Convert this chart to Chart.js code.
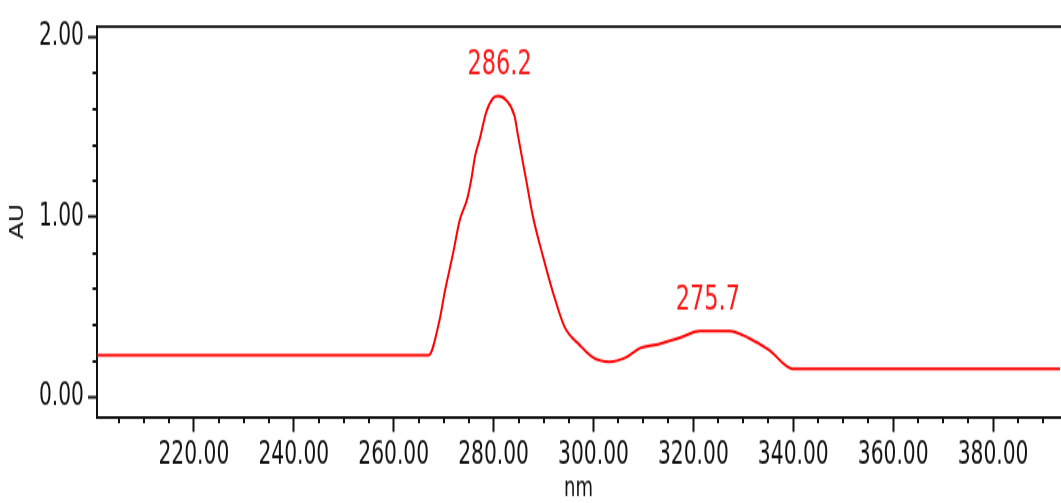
<!DOCTYPE html>
<html>
<head>
<meta charset="utf-8">
<script src="https://cdn.jsdelivr.net/npm/chart.js@4.4.1/dist/chart.umd.min.js"></script>
<style>
    html { overflow: hidden; }
    html, body { margin: 0; padding: 0; background: #fff; width: 1061px; height: 503px; }
    /* the original picture is stretched vertically, so the whole chart is too */
    #wrap { width: 1061px; height: 359px; transform: scaleY(1.4011); transform-origin: 0 0; }
</style>
</head>
<body>
<div id="wrap"><canvas id="spectrum"></canvas></div>
<script>
// spectrum (nm, AU)
const wavelengths = [200, 267.0, 269.2, 270.2, 271.9, 273.2, 274.7, 275.6, 276.3, 277.2, 278.5, 279.9, 280.9,
    282.5, 284.2, 284.9, 286.5, 287.9, 289.9, 291.9, 294.2, 297.2, 299.9, 303.2, 306.5, 309.2, 313.2,
    317.9, 321.2, 327.2, 331.2, 335.2, 339.9, 393.4];
const absorbance = [0.233, 0.233, 0.43, 0.58, 0.80, 0.98, 1.10, 1.22, 1.34, 1.43, 1.58, 1.66, 1.672,
    1.65, 1.56, 1.45, 1.21, 1.00, 0.78, 0.58, 0.39, 0.29, 0.22, 0.196, 0.22, 0.27, 0.295,
    0.335, 0.367, 0.367, 0.326, 0.26, 0.156, 0.156];

// peak annotations
const peakLabels = ['286.2', '275.7'];
const peakX = [281.2, 322.9];
const peakY = [1.672, 0.367];

// axes
const xLabelTicks = [220, 240, 260, 280, 300, 320, 340, 360, 380];
const yLabelTicks = [0, 1, 2];
const xRange = [200.6, 393.4];
const yRange = [-0.111, 2.061];

const narrow = "'Liberation Sans Narrow', 'Arial Narrow', 'DejaVu Sans Condensed', sans-serif";
const ink = '#111';

function minorX() {
    const out = [];
    for (let v = 205; v <= 390; v += 5) out.push(v);
    return out;
}
function minorY() {
    const out = [];
    for (let i = 0; i <= 10; i++) out.push(i / 5);
    return out;
}

const minorTicks = {
    id: 'minorTicks',
    afterDraw(chart) {
        const ctx = chart.ctx;
        const area = chart.chartArea;
        const xs = chart.scales.x, ys = chart.scales.y;
        ctx.save();
        ctx.strokeStyle = ink;
        ctx.lineWidth = 2;
        ctx.beginPath();
        xs.ticks.forEach(t => {
            if (xLabelTicks.includes(t.value)) return;
            const px = Math.round(xs.getPixelForValue(t.value));
            ctx.moveTo(px, area.bottom);
            ctx.lineTo(px, area.bottom + 4.5);
        });
        ys.ticks.forEach(t => {
            if (Number.isInteger(t.value)) return;
            const py = Math.round(ys.getPixelForValue(t.value));
            ctx.moveTo(area.left - 4.5, py);
            ctx.lineTo(area.left, py);
        });
        ctx.stroke();

        // peak labels
        ctx.fillStyle = '#ff1a1a';
        ctx.font = '25px ' + narrow;
        ctx.textAlign = 'center';
        ctx.textBaseline = 'middle';
        peakLabels.forEach((txt, i) => {
            const px = xs.getPixelForValue(peakX[i]);
            const py = ys.getPixelForValue(peakY[i]);
            ctx.fillText(txt, px, py - 22);
        });
        ctx.restore();
    }
};

new Chart(document.getElementById('spectrum'), {
    type: 'line',
    data: {
        datasets: [{
            data: wavelengths.map((w, i) => ({x: w, y: absorbance[i]})),
            borderColor: '#ff0000',
            borderWidth: 2,
            pointRadius: 0,
            cubicInterpolationMode: 'monotone',
            fill: false
        }]
    },
    options: {
        responsive: true,
        maintainAspectRatio: false,
        animation: false,
        layout: { padding: 0 },
        plugins: { legend: { display: false }, tooltip: { enabled: false } },
        scales: {
            x: {
                type: 'linear',
                position: 'bottom',
                min: xRange[0],
                max: xRange[1],
                afterBuildTicks: s => { s.ticks = minorX().map(v => ({value: v})); },
                afterFit: s => { s.height = 61.4; },
                grid: {
                    drawOnChartArea: false,
                    tickLength: 10.7,
                    tickWidth: 2,
                    tickColor: c => xLabelTicks.includes(c.tick.value) ? ink : 'rgba(0,0,0,0)'
                },
                border: { color: ink, width: 2 },
                ticks: {
                    autoSkip: false,
                    maxRotation: 0,
                    padding: 3,
                    color: ink,
                    font: { family: narrow, size: 22.5 },
                    callback: v => xLabelTicks.includes(v) ? v.toFixed(2) : ''
                },
                title: {
                    display: true,
                    text: 'nm',
                    color: ink,
                    font: { family: narrow, size: 20, lineHeight: 1 },
                    padding: { top: 0, bottom: 0 }
                }
            },
            xTop: {
                type: 'linear',
                position: 'top',
                min: xRange[0],
                max: xRange[1],
                afterFit: s => { s.height = 18.6; },
                grid: { drawOnChartArea: false, drawTicks: false },
                border: { color: '#222', width: 2 },
                ticks: { display: false }
            },
            y: {
                type: 'linear',
                position: 'left',
                min: yRange[0],
                max: yRange[1],
                afterBuildTicks: s => { s.ticks = minorY().map(v => ({value: v})); },
                afterFit: s => { s.width = 97; },
                grid: {
                    drawOnChartArea: false,
                    tickLength: 9,
                    tickWidth: 2,
                    tickColor: c => Number.isInteger(c.tick.value) ? ink : 'rgba(0,0,0,0)'
                },
                border: { color: ink, width: 2 },
                ticks: {
                    autoSkip: false,
                    padding: 4,
                    color: ink,
                    font: { family: narrow, size: 22.5 },
                    callback: v => yLabelTicks.includes(v) ? v.toFixed(2) : ''
                },
                title: {
                    display: true,
                    text: 'AU',
                    color: ink,
                    font: { family: narrow, size: 20, lineHeight: 1.2 },
                    padding: { top: 6, bottom: 0 }
                }
            }
        }
    },
    plugins: [minorTicks]
});
</script>
</body>
</html>
